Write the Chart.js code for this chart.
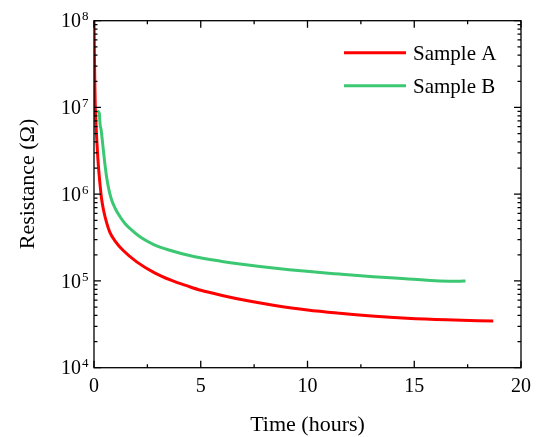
<!DOCTYPE html>
<html>
<head>
<meta charset="utf-8">
<script src="https://cdn.jsdelivr.net/npm/chart.js@4"></script>
<style>
    html, body { margin: 0; padding: 0; background: #fff; }
    canvas { display: block; }
</style>
</head>
<body>
<canvas id="chart" width="540" height="437"></canvas>
<script>
// Sample A (red)
const timeA = [0, 0.02, 0.04, 0.06, 0.09, 0.13, 0.18, 0.23, 0.3, 0.36, 0.45, 0.59, 0.75, 0.98, 1.37, 2.0, 2.86, 3.6, 4.4, 5.0, 6.0, 7.2, 8.4, 10, 11.5, 13, 14.65, 16.5, 18.7];
const resA = [1.0e8, 4.0e7, 1.78e7, 1.0e7, 6.6e6, 4.2e6, 2.6e6, 1.78e6, 1.17e6, 8.7e5, 6.5e5, 4.7e5, 3.6e5, 2.9e5, 2.24e5, 1.66e5, 1.23e5, 1.02e5, 8.7e4, 7.8e4, 6.8e4, 5.9e4, 5.25e4, 4.62e4, 4.24e4, 3.95e4, 3.72e4, 3.56e4, 3.45e4];

// Sample B (green)
const timeB = [0.15, 0.2, 0.25, 0.27, 0.29, 0.33, 0.38, 0.44, 0.5, 0.59, 0.7, 0.83, 1.0, 1.22, 1.45, 1.69, 2.2, 2.8, 3.47, 4.72, 6.0, 6.84, 8.4, 9.96, 11.5, 13.08, 14.6, 16.2, 17.1, 17.4];
const resB = [9.1e6, 8.9e6, 8.5e6, 7.2e6, 6.2e6, 5.6e6, 4.4e6, 3.2e6, 2.35e6, 1.58e6, 1.12e6, 8.5e5, 6.8e5, 5.5e5, 4.6e5, 4.0e5, 3.16e5, 2.63e5, 2.29e5, 1.9e5, 1.68e5, 1.57e5, 1.41e5, 1.29e5, 1.2e5, 1.12e5, 1.06e5, 1.0e5, 0.99e5, 1.0e5];

const seriesLabels = ['Sample A', 'Sample B'];
const seriesColors = ['#ff0000', '#3cc873'];

const xMajorTicks = [0, 5, 10, 15, 20];
const yDecades = [1e4, 1e5, 1e6, 1e7, 1e8];
const xTitle = 'Time (hours)';
const yTitle = 'Resistance (\u03A9)';

const FONT = "'Liberation Serif', 'Times New Roman', serif";

const toPoints = (xs, ys) => xs.map((x, i) => ({ x: x, y: ys[i] }));

// minor ticks 2..9 in every decade
const yTickValues = [];
yDecades.forEach((d, i) => {
    yTickValues.push(d);
    if (i < yDecades.length - 1) {
        for (let m = 2; m <= 9; m++) yTickValues.push(d * m);
    }
});

// frame, inward ticks, labels, titles and legend
const framePlugin = {
    id: 'frame',
    afterDraw(chart) {
        const ctx = chart.ctx;
        const area = chart.chartArea;
        const xs = chart.scales.x;
        const ys = chart.scales.y;
        ctx.save();
        ctx.strokeStyle = '#000';
        ctx.fillStyle = '#000';
        ctx.lineWidth = 1.3;
        ctx.strokeRect(area.left, area.top, area.right - area.left, area.bottom - area.top);

        ctx.beginPath();
        xs.ticks.forEach(t => {
            const px = xs.getPixelForValue(t.value);
            const len = xMajorTicks.includes(t.value) ? 7 : 3.5;
            ctx.moveTo(px, area.bottom);
            ctx.lineTo(px, area.bottom - len);
            ctx.moveTo(px, area.top);
            ctx.lineTo(px, area.top + len);
        });
        ys.ticks.forEach(t => {
            const py = ys.getPixelForValue(t.value);
            const len = yDecades.includes(t.value) ? 7 : 3.5;
            ctx.moveTo(area.left, py);
            ctx.lineTo(area.left + len, py);
            ctx.moveTo(area.right, py);
            ctx.lineTo(area.right - len, py);
        });
        ctx.stroke();

        // x tick labels
        ctx.font = '20px ' + FONT;
        ctx.textAlign = 'center';
        ctx.textBaseline = 'alphabetic';
        xMajorTicks.forEach(v => {
            ctx.fillText(String(v), xs.getPixelForValue(v), area.bottom + 24);
        });

        // y tick labels 10^n
        yDecades.forEach(v => {
            const py = ys.getPixelForValue(v);
            const exp = Math.round(Math.log10(v));
            ctx.font = '20px ' + FONT;
            ctx.textAlign = 'right';
            ctx.fillText('10', area.left - 13, py + 6.6);
            ctx.font = '13px ' + FONT;
            ctx.textAlign = 'left';
            ctx.fillText(String(exp), area.left - 12, py - 0.4);
        });

        // axis titles
        ctx.font = '22px ' + FONT;
        ctx.textAlign = 'center';
        ctx.fillText(xTitle, (area.left + area.right) / 2, 431);
        ctx.save();
        ctx.translate(34, 184);
        ctx.rotate(-Math.PI / 2);
        ctx.fillText(yTitle, 0, 0);
        ctx.restore();

        // legend
        ctx.font = '21px ' + FONT;
        ctx.textAlign = 'left';
        chart.data.datasets.forEach((ds, i) => {
            const ly = 52.7 + i * 33;
            ctx.strokeStyle = ds.borderColor;
            ctx.lineWidth = 3;
            ctx.beginPath();
            ctx.moveTo(344, ly);
            ctx.lineTo(406, ly);
            ctx.stroke();
            ctx.fillText(ds.label, 413, ly + 7.5);
        });
        ctx.restore();
    }
};

new Chart(document.getElementById('chart'), {
    type: 'line',
    data: {
        datasets: [
            {
                label: seriesLabels[0],
                data: toPoints(timeA, resA),
                borderColor: seriesColors[0],
                borderWidth: 3,
                pointRadius: 0,
                cubicInterpolationMode: 'monotone',
                fill: false
            },
            {
                label: seriesLabels[1],
                data: toPoints(timeB, resB),
                borderColor: seriesColors[1],
                borderWidth: 3,
                pointRadius: 0,
                cubicInterpolationMode: 'monotone',
                fill: false
            }
        ]
    },
    options: {
        responsive: false,
        animation: false,
        devicePixelRatio: 1,
        layout: { padding: { top: 20.7, right: 19, left: 0, bottom: 0 } },
        plugins: {
            legend: { display: false },
            tooltip: { enabled: false }
        },
        scales: {
            x: {
                type: 'linear',
                min: 0,
                max: 20,
                ticks: { display: false, stepSize: 2.5 },
                grid: { display: false },
                border: { display: false },
                afterFit: s => { s.height = 69.3; }
            },
            y: {
                type: 'logarithmic',
                min: 1e4,
                max: 1e8,
                ticks: { display: false },
                grid: { display: false },
                border: { display: false },
                afterBuildTicks: s => { s.ticks = yTickValues.map(v => ({ value: v })); },
                afterFit: s => { s.width = 94; }
            }
        }
    },
    plugins: [framePlugin]
});
</script>
</body>
</html>
